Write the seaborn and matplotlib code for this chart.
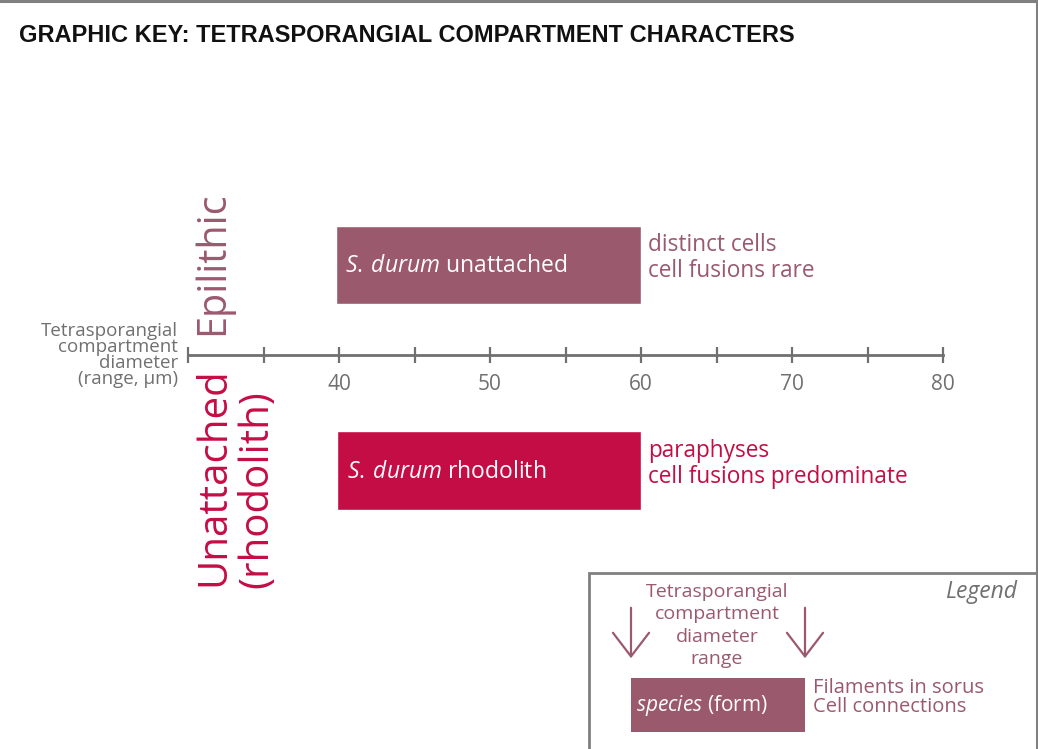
import matplotlib

matplotlib.use("Agg")

import matplotlib.pyplot as plt
import pandas as pd
import seaborn as sns
from matplotlib.lines import Line2D
from matplotlib.patches import FancyArrowPatch, Rectangle

W, H = 1038, 749

# --- data -----------------------------------------------------------------
forms = ["unattached", "rhodolith"]
bar_labels = [r"$\mathit{S.\:durum}$ unattached", r"$\mathit{S.\:durum}$ rhodolith"]
range_start = [39.8, 39.9]
range_end = [60.0, 60.0]
char_line1 = ["distinct cells", "paraphyses"]
char_line2 = ["cell fusions rare", "cell fusions predominate"]
axis_ticks = [30, 35, 40, 45, 50, 55, 60, 65, 70, 75, 80]
tick_labels = ["", "", "40", "", "50", "", "60", "", "70", "", "80"]
axis_title = ["Tetrasporangial", "compartment", "diameter", "(range, \u00b5m)"]
legend_title = ["Tetrasporangial", "compartment", "diameter", "range"]
legend_chars = ["Filaments in sorus", "Cell connections"]

MAUVE = "#9b596e"
CRIMSON = "#c50d45"
GRAY = "#707070"
colors = [MAUVE, CRIMSON]

sns.set_theme(style="white")
plt.rcParams["font.family"] = ["Open Sans", "DejaVu Sans"]
plt.rcParams["mathtext.fontset"] = "custom"
plt.rcParams["mathtext.rm"] = "Open Sans"
plt.rcParams["mathtext.it"] = "Open Sans:italic"


def fx(x):
    return x / W


def fy(y):
    return 1 - y / H


fig = plt.figure(figsize=(W / 100, H / 100), dpi=100)
ax = fig.add_axes([0, 0, 1, 1])

df = pd.DataFrame({"form": forms, "start": range_start, "end": range_end})
sns.barplot(data=df, x="end", y="form", hue="form", palette=colors,
            width=0.38, orient="h", saturation=1, legend=False, ax=ax)
# turn the bars into floating range bars
for patch, s, e in zip(ax.patches, df["start"], df["end"]):
    patch.set_x(s)
    patch.set_width(e - s)

# scale: 30 -> 188 px, 80 -> 943 px ; category 0 -> 265 px, 1 -> 470.5 px
ppu = (943 - 188) / 50
ax.set_xlim(30 - 188 / ppu, 30 + (W - 188) / ppu)
ypu = 470.5 - 265
ax.set_ylim((H - 265) / ypu, -265 / ypu)
axis_y = (355 - 265) / ypu

for side in ["left", "top", "right"]:
    ax.spines[side].set_visible(False)
ax.spines["bottom"].set_position(("data", axis_y))
ax.spines["bottom"].set_bounds(30, 80)
ax.spines["bottom"].set_color(GRAY)
ax.spines["bottom"].set_linewidth(2)
ax.set_xticks(axis_ticks, tick_labels)
ax.tick_params(axis="x", direction="inout", length=12, width=1.6, color=GRAY,
               labelcolor=GRAY, labelsize=15, pad=7.5, bottom=True)
ax.set_yticks([])
ax.set_xlabel("")
ax.set_ylabel("")

for i in range(len(forms)):
    ax.text(range_start[i] + 0.62, i + 0.005, bar_labels[i], color="white",
            fontsize=16.5, ha="left", va="center")
    ax.text(range_end[i] + 0.45, i - 0.095, char_line1[i], color=colors[i],
            fontsize=16.3, ha="left", va="center")
    ax.text(range_end[i] + 0.45, i + 0.03, char_line2[i], color=colors[i],
            fontsize=16.3, ha="left", va="center")

# axis title
for k, line in enumerate(axis_title):
    fig.text(fx(178), fy(331 + 16 * k), line, color=GRAY, fontsize=13.5,
             ha="right", va="center")

# habitat labels
fig.text(fx(213), fy(335), "Epilithic", rotation=90, color=MAUVE, fontsize=28.5,
         ha="center", va="bottom")
fig.text(fx(214), fy(586), "Unattached", rotation=90, color=CRIMSON, fontsize=29,
         ha="center", va="bottom")
fig.text(fx(257), fy(588), "(rhodolith)", rotation=90, color=CRIMSON, fontsize=29,
         ha="center", va="bottom")

# title
fig.text(fx(19), fy(36), "GRAPHIC KEY: TETRASPORANGIAL COMPARTMENT CHARACTERS",
         family="Liberation Sans", fontweight="bold", fontsize=17,
         color="#111111", ha="left", va="center")

# figure frame (top and right)
fig.add_artist(Line2D([0, 1], [fy(1), fy(1)], color="#808080", lw=2.2))
fig.add_artist(Line2D([fx(1036.5), fx(1036.5)], [0, 1], color="#808080", lw=2.2))

# legend box
fig.add_artist(Rectangle((fx(589), -0.02), fx(1037) - fx(589), fy(573) + 0.02,
                         fill=False, edgecolor="#808080", lw=2))
fig.text(fx(1017), fy(592), "Legend", color=GRAY, fontsize=16.5, style="italic",
         ha="right", va="center")
for k, line in enumerate(legend_title):
    fig.text(fx(717), fy(592 + 22.3 * k), line, color=MAUVE, fontsize=14,
             ha="center", va="center")
for xa in (631, 805):
    fig.add_artist(FancyArrowPatch(
        (fx(xa), fy(605)), (fx(xa), fy(661)), transform=fig.transFigure,
        arrowstyle="->,head_length=0.85,head_width=0.65", mutation_scale=20,
        color=MAUVE, lw=1.6))
fig.add_artist(Rectangle((fx(631), fy(732)), fx(805) - fx(631), fy(678) - fy(732),
                         facecolor=MAUVE, edgecolor="none"))
fig.text(fx(636), fy(705), r"$\mathit{species}$ (form)", color="white",
         fontsize=15, ha="left", va="center")
for k, line in enumerate(legend_chars):
    fig.text(fx(813), fy(688 + 19 * k), line, color=MAUVE, fontsize=14.5,
             ha="left", va="center")

fig.savefig("out.png", dpi=100)
